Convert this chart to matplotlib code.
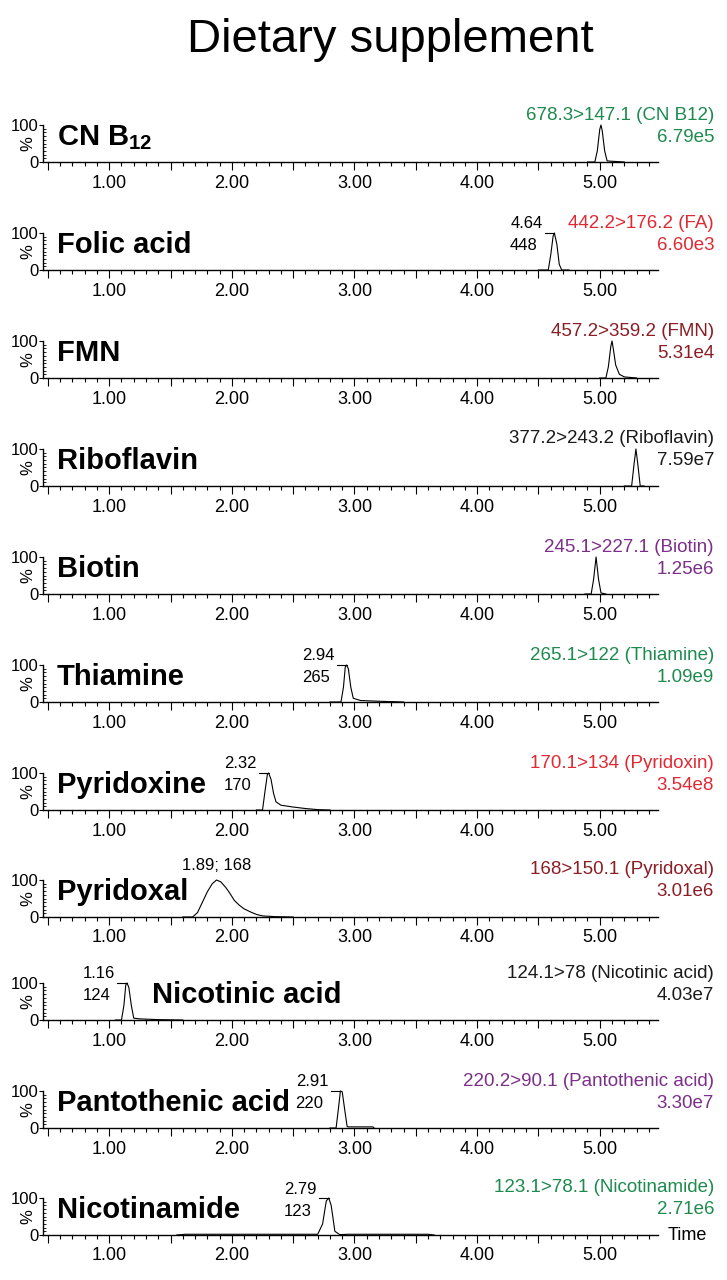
import matplotlib
matplotlib.use('Agg')
import matplotlib.pyplot as plt
import matplotlib.ticker as mticker

plt.rcParams.update({
    'font.family': ['Liberation Sans', 'DejaVu Sans'],
    'mathtext.fontset': 'custom',
    'mathtext.rm': 'Liberation Sans',
    'mathtext.bf': 'Liberation Sans:bold',
})

# ---- data ----
title = 'Dietary supplement'
names = ['CN B$_{\\mathbf{12}}$', 'Folic acid', 'FMN', 'Riboflavin', 'Biotin', 'Thiamine',
         'Pyridoxine', 'Pyridoxal', 'Nicotinic acid', 'Pantothenic acid', 'Nicotinamide']
transitions = ['678.3>147.1 (CN B12)', '442.2>176.2 (FA)', '457.2>359.2 (FMN)',
               '377.2>243.2 (Riboflavin)', '245.1>227.1 (Biotin)', '265.1>122 (Thiamine)',
               '170.1>134 (Pyridoxin)', '168>150.1 (Pyridoxal)', '124.1>78 (Nicotinic acid)',
               '220.2>90.1 (Pantothenic acid)', '123.1>78.1 (Nicotinamide)']
intensities = ['6.79e5', '6.60e3', '5.31e4', '7.59e7', '1.25e6', '1.09e9',
               '3.54e8', '3.01e6', '4.03e7', '3.30e7', '2.71e6']
rt_labels = [None, '4.64', None, None, None, '2.94', '2.32', '1.89', '1.16', '2.91', '2.79']
mz_labels = [None, '448', None, None, None, '265', '170', '168', '124', '220', '123']
label_side = [None, 'left', None, None, None, 'left', 'left', 'above', 'left', 'left', 'left']

green, red, maroon, purple, black = '#1d8a4e', '#e02a33', '#8b1d25', '#7b2f88', '#1a1a1a'
colors = [green, red, maroon, black, purple, green, red, maroon, black, purple, green]

# chromatogram traces (time, %)
cnb12_t = [4.90, 4.96, 4.98, 5.00, 5.01, 5.02, 5.04, 5.06, 5.10, 5.20]
cnb12_y = [0, 0, 30, 88, 100, 85, 30, 3, 2, 0]
folic_t = [4.50, 4.58, 4.60, 4.62, 4.63, 4.65, 4.67, 4.69, 4.75]
folic_y = [0, 0, 40, 92, 100, 70, 15, 0, 0]
fmn_t = [5.00, 5.05, 5.07, 5.09, 5.10, 5.11, 5.13, 5.16, 5.20, 5.30]
fmn_y = [0, 0, 30, 85, 100, 80, 35, 10, 3, 0]
ribo_t = [5.20, 5.26, 5.28, 5.295, 5.31, 5.33, 5.36]
ribo_y = [0, 0, 60, 100, 60, 0, 0]
biotin_t = [4.88, 4.93, 4.95, 4.97, 4.99, 5.01, 5.05]
biotin_y = [0, 0, 40, 100, 40, 3, 0]
thia_t = [2.80, 2.89, 2.91, 2.925, 2.935, 2.95, 2.97, 2.99, 3.05, 3.20, 3.40]
thia_y = [0, 0, 40, 95, 100, 90, 40, 10, 4, 2, 0]
pyrd_t = [2.20, 2.25, 2.27, 2.29, 2.30, 2.32, 2.34, 2.36, 2.40, 2.50, 2.60, 2.70, 2.80]
pyrd_y = [0, 0, 50, 97, 100, 82, 45, 22, 13, 8, 4, 1, 0]
pyral_t = [1.60, 1.68, 1.72, 1.76, 1.80, 1.84, 1.875, 1.91, 1.95, 1.98, 2.02, 2.06,
           2.10, 2.15, 2.20, 2.25, 2.35, 2.50]
pyral_y = [0, 0, 12, 40, 68, 90, 100, 95, 80, 66, 45, 32, 22, 14, 7, 3, 1, 0]
nico_t = [1.05, 1.10, 1.12, 1.135, 1.145, 1.16, 1.18, 1.20, 1.25, 1.40, 1.60]
nico_y = [0, 0, 40, 95, 100, 88, 40, 5, 3, 1, 0]
panto_t = [2.80, 2.85, 2.87, 2.885, 2.90, 2.92, 2.94, 2.95, 3.15, 3.16]
panto_y = [0, 0, 55, 100, 98, 50, 4, 3, 3, 0]
nicam_t = [1.55, 1.62, 2.70, 2.74, 2.77, 2.79, 2.81, 2.84, 2.88, 2.95, 3.60, 3.65]
nicam_y = [0, 2, 2, 30, 92, 100, 80, 10, 1, 2, 2, 0]

traces = [(cnb12_t, cnb12_y), (folic_t, folic_y), (fmn_t, fmn_y), (ribo_t, ribo_y),
          (biotin_t, biotin_y), (thia_t, thia_y), (pyrd_t, pyrd_y), (pyral_t, pyral_y),
          (nico_t, nico_y), (panto_t, panto_y), (nicam_t, nicam_y)]

# ---- layout (pixels) ----
W, H = 727, 1280
baselines = [162, 270, 378, 486, 594, 702, 810, 917, 1020, 1128, 1235]
name_x = [57, 57, 57, 57, 57, 57, 57, 57, 152, 57, 57]
ax_l, ax_r, ax_h = 43, 658, 37
ax_w = ax_r - ax_l

fig = plt.figure(figsize=(W / 100, H / 100), dpi=100)
fig.text(390 / W, 1 - 40 / H, title, ha='center', va='center', fontsize=34)

for i in range(len(names)):
    b = baselines[i]
    ax = fig.add_axes([ax_l / W, 1 - b / H, ax_w / W, ax_h / H])
    t, y = traces[i]
    ax.plot(t, y, color='black', lw=0.8, clip_on=False)
    ax.set_xlim(0.46, 5.475)
    ax.set_ylim(0, 100)
    for s in ['top', 'right']:
        ax.spines[s].set_visible(False)
    for s in ['left', 'bottom']:
        ax.spines[s].set_linewidth(1.0)

    ax.xaxis.set_major_locator(mticker.MultipleLocator(0.5))
    ax.xaxis.set_minor_locator(mticker.MultipleLocator(0.1))
    ax.xaxis.set_major_formatter(mticker.FuncFormatter(
        lambda v, p: f'{v:.2f}' if abs(v - round(v)) < 1e-6 else ''))
    ax.tick_params(axis='x', which='major', length=6, width=0.8, labelsize=13, pad=3)
    ax.tick_params(axis='x', which='minor', length=3, width=0.8)
    ax.set_yticks([0, 100])
    ax.set_yticklabels(['0', '100'])
    ax.yaxis.set_minor_locator(mticker.MultipleLocator(10))
    ax.tick_params(axis='y', which='major', length=3, width=0.8, labelsize=12, pad=0.5)
    ax.tick_params(axis='y', which='minor', direction='in', length=2.5, width=0.6)
    ax.text((27.5 - ax_l) / ax_w, 0.5, '%', rotation=90, ha='center', va='center',
            fontsize=12, transform=ax.transAxes)

    # compound name
    ax.text((name_x[i] - ax_l) / ax_w, 0.46, names[i], ha='left', va='baseline',
            fontsize=21, fontweight='bold', transform=ax.transAxes)

    # transition and intensity, right side
    xr = (714 - ax_l) / ax_w
    ax.text(xr, 47 / ax_h, transitions[i], ha='right', va='center', fontsize=13.5,
            color=colors[i], transform=ax.transAxes, clip_on=False)
    ax.text(xr, 25 / ax_h, intensities[i], ha='right', va='center', fontsize=13.5,
            color=colors[i], transform=ax.transAxes, clip_on=False)

    # peak labels
    if label_side[i] is not None:
        apex = t[y.index(max(y))]
        if label_side[i] == 'left':
            x0 = apex - 0.08
            ax.plot([x0, apex], [100, 100], color='black', lw=0.8, clip_on=False)
            ax.annotate(rt_labels[i], xy=(x0, 100), xytext=(-2, 9), textcoords='offset pixels',
                        ha='right', va='center', fontsize=12)
            ax.annotate(mz_labels[i], xy=(x0, 100), xytext=(-7, -13), textcoords='offset pixels',
                        ha='right', va='center', fontsize=12)
        else:
            ax.annotate(f'{rt_labels[i]}; {mz_labels[i]}', xy=(apex, 100), xytext=(0, 14),
                        textcoords='offset pixels', ha='center', va='center', fontsize=12)

    if i == len(names) - 1:
        ax.text(1 + 10 / ax_w, 0, 'Time', ha='left', va='center', fontsize=13,
                transform=ax.transAxes)

fig.savefig('out.png', dpi=100)
